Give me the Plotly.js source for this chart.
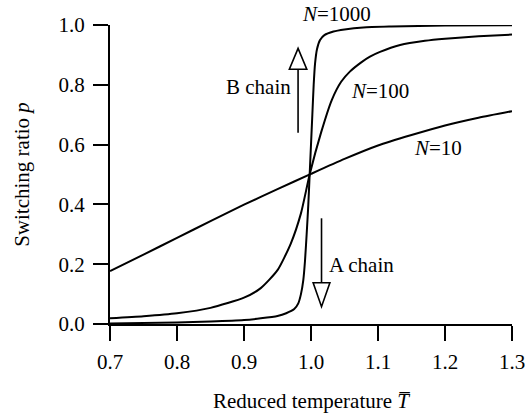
<!DOCTYPE html>
<html>
<head>
<meta charset="utf-8">
<script src="https://cdn.plot.ly/plotly-3.0.1.min.js"></script>
<style>
html,body{margin:0;padding:0;background:#fff;}
#chart{width:525px;height:417px;}
</style>
</head>
<body>
<div id="chart"></div>
<script>
// ---- data ----
const T_N10 = [0.7, 0.75, 0.8, 0.85, 0.9, 0.95, 1.0, 1.05, 1.1, 1.15, 1.2, 1.25, 1.3];
const P_N10 = [0.177, 0.232, 0.288, 0.344, 0.399, 0.451, 0.502, 0.552, 0.597, 0.632, 0.664, 0.690, 0.712];

const T_N100 = [0.7, 0.75, 0.8, 0.85, 0.9, 0.925, 0.95, 0.97, 0.985, 0.998, 1.015, 1.031, 1.045, 1.058, 1.075, 1.088, 1.103, 1.133, 1.17, 1.2, 1.25, 1.3];
const P_N100 = [0.019, 0.026, 0.036, 0.054, 0.088, 0.12, 0.18, 0.27, 0.37, 0.50, 0.64, 0.749, 0.81, 0.844, 0.875, 0.894, 0.91, 0.933, 0.947, 0.954, 0.962, 0.968];

const T_N1000 = [0.7, 0.8, 0.85, 0.9, 0.925, 0.95, 0.963, 0.975, 0.981, 0.985, 0.9885, 0.991, 0.9935, 0.996, 0.998, 1.0, 1.002, 1.004, 1.006, 1.009, 1.0135, 1.02, 1.0335, 1.05, 1.078, 1.12, 1.2, 1.3];
const P_N1000 = [0.002, 0.005, 0.008, 0.013, 0.019, 0.027, 0.036, 0.05, 0.069, 0.1, 0.147, 0.21, 0.3, 0.4, 0.5, 0.6, 0.7, 0.8, 0.87, 0.92, 0.95, 0.966, 0.978, 0.985, 0.992, 0.995, 0.998, 0.999];

const seriesNames = ['N=10', 'N=100', 'N=1000'];
const xTickVals = [0.7, 0.8, 0.9, 1.0, 1.1, 1.2, 1.3];
const xTickText = ['0.7', '0.8', '0.9', '1.0', '1.1', '1.2', '1.3'];
const yTickVals = [0.0, 0.2, 0.4, 0.6, 0.8, 1.0];
const yTickText = ['0.0', '0.2', '0.4', '0.6', '0.8', '1.0'];

// ---- chart ----
const FONT = '"Liberation Serif", "Times New Roman", Times, "DejaVu Serif", serif';
const lineStyle = {color: '#000', width: 2};

const traces = [
  {x: T_N10, y: P_N10, name: seriesNames[0]},
  {x: T_N100, y: P_N100, name: seriesNames[1]},
  {x: T_N1000, y: P_N1000, name: seriesNames[2]}
].map(t => Object.assign(t, {type: 'scatter', mode: 'lines', line: Object.assign({shape: 'spline', smoothing: 0.6}, lineStyle), cliponaxis: false, hoverinfo: 'skip'}));

function arrowShapes(x, yShaft, yBase, yTip, halfW) {
  return [
    {type: 'line', xref: 'x', yref: 'y', x0: x, x1: x, y0: yShaft, y1: yBase, line: {color: '#000', width: 1.6}},
    {type: 'path', xref: 'x', yref: 'y',
     path: `M ${x - halfW},${yBase} L ${x + halfW},${yBase} L ${x},${yTip} Z`,
     fillcolor: '#fff', line: {color: '#000', width: 1.6}}
  ];
}

const labelFont = {family: FONT, size: 21, color: '#000'};
function label(text, x, y, yref) {
  return {text: text, x: x, y: y, xref: 'x', yref: yref || 'y', showarrow: false, font: labelFont, xanchor: 'center', yanchor: 'middle'};
}

const layout = {
  width: 525, height: 417,
  margin: {l: 110, r: 13, t: 25, b: 93},
  paper_bgcolor: '#fff', plot_bgcolor: '#fff',
  showlegend: false,
  font: {family: FONT, size: 21, color: '#000'},
  xaxis: {
    range: [0.7, 1.3], tickvals: xTickVals, ticktext: xTickText,
    ticks: 'outside', ticklen: 15, tickwidth: 2, tickcolor: '#000',
    showline: true, linewidth: 2, linecolor: '#000',
    showgrid: false, zeroline: false,
    ticklabelstandoff: 3, ticklabeloverflow: 'allow',
    tickfont: {family: FONT, size: 21, color: '#000'},
    title: {text: 'Reduced temperature <i>T\u0305</i>', font: {family: FONT, size: 21, color: '#000'}, standoff: 20}
  },
  yaxis: {
    range: [0, 1], tickvals: yTickVals, ticktext: yTickText,
    ticks: 'outside', ticklen: 15, tickwidth: 2, tickcolor: '#000',
    showline: true, linewidth: 2, linecolor: '#000',
    showgrid: false, zeroline: false,
    ticklabelstandoff: 4, ticklabeloverflow: 'allow',
    tickfont: {family: FONT, size: 21, color: '#000'},
    title: {text: 'Switching ratio <i>p</i>', font: {family: FONT, size: 21, color: '#000'}, standoff: 23}
  },
  shapes: [].concat(
    arrowShapes(0.9807, 0.640, 0.852, 0.922, 0.013),
    arrowShapes(1.0157, 0.3535, 0.138, 0.058, 0.0125)
  ),
  annotations: [
    label('<i>N</i>=1000', 1.0374, 1.036, 'paper'),
    label('<i>N</i>=100', 1.103, 0.78),
    label('<i>N</i>=10', 1.19, 0.59),
    label('A chain', 1.075, 0.197),
    label('B chain', 0.922, 0.793)
  ]
};

Plotly.newPlot('chart', traces, layout, {staticPlot: true, displayModeBar: false});
</script>
</body>
</html>
